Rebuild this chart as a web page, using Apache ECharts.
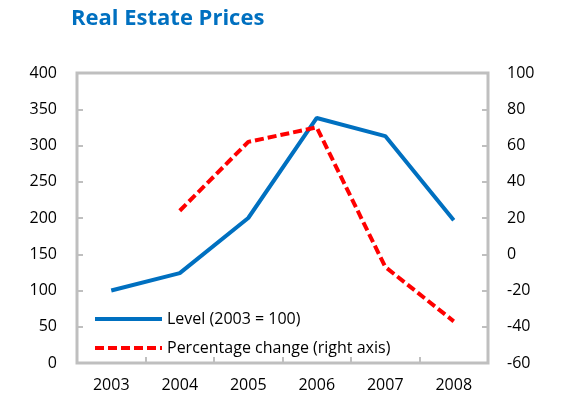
<!DOCTYPE html>
<html><head><meta charset="utf-8">
<script src="https://cdn.jsdelivr.net/npm/echarts@6/dist/echarts.min.js"></script>
<style>html,body{margin:0;padding:0;background:#fff}#c{width:562px;height:412px}</style>
</head><body><div id="c"></div>
<script>
const years = ['2003','2004','2005','2006','2007','2008'];
const levelValues = [100, 124, 200, 338, 313, 197];
const pctValues = [null, 24, 62, 70, -7, -37];
const levelName = 'Level (2003 = 100)';
const pctName = 'Percentage change (right axis)';

const chart = echarts.init(document.getElementById('c'));
const font = '"Open Sans", sans-serif';
chart.setOption({
  animation: false,
  title: {text: 'Real Estate Prices', left: 66, top: 3, padding: [5, 5],
    textStyle: {color: '#0070C0', fontSize: 22, fontWeight: 'bold', fontFamily: font}},
  grid: {left: 77, right: 74, top: 73, bottom: 49, show: true, borderColor: '#BFBFBF', borderWidth: 3, backgroundColor: 'transparent'},
  legend: {
    orient: 'vertical', left: 93, top: 311, padding: 0, itemWidth: 67, itemHeight: 6, itemGap: 13,
    textStyle: {fontSize: 16, color: '#000', fontFamily: font},
    itemStyle: {color: 'transparent', borderWidth: 0},
    data: [
      {name: levelName, lineStyle: {color: '#0070C0', width: 4}},
      {name: pctName, lineStyle: {color: '#FF0000', width: 4, type: [9, 4]}}
    ]
  },
  xAxis: {type: 'category', data: years, boundaryGap: true,
    axisLine: {show: false},
    axisTick: {show: true, inside: true, length: 6, lineStyle: {color: '#BFBFBF', width: 2}},
    axisLabel: {fontSize: 16, color: '#000', margin: 14, fontFamily: font},
    splitLine: {show: false}},
  yAxis: [
    {type: 'value', min: 0, max: 400, interval: 50,
      axisLine: {show: false},
      axisTick: {show: true, inside: true, length: 6, lineStyle: {color: '#BFBFBF', width: 2}},
      axisLabel: {fontSize: 16, color: '#000', margin: 20, fontFamily: font},
      splitLine: {show: false}},
    {type: 'value', min: -60, max: 100, interval: 20, position: 'right',
      axisLine: {show: false},
      axisTick: {show: true, inside: true, length: 6, lineStyle: {color: '#BFBFBF', width: 2}},
      axisLabel: {fontSize: 16, color: '#000', margin: 19, fontFamily: font},
      splitLine: {show: false}}
  ],
  series: [
    {name: levelName, type: 'line', yAxisIndex: 0, data: levelValues, symbol: 'none',
      lineStyle: {color: '#0070C0', width: 4}, itemStyle: {color: '#0070C0'}},
    {name: pctName, type: 'line', yAxisIndex: 1, data: pctValues, symbol: 'none',
      lineStyle: {color: '#FF0000', width: 4, type: [9, 4]}, itemStyle: {color: '#FF0000'}}
  ]
});
</script></body></html>
